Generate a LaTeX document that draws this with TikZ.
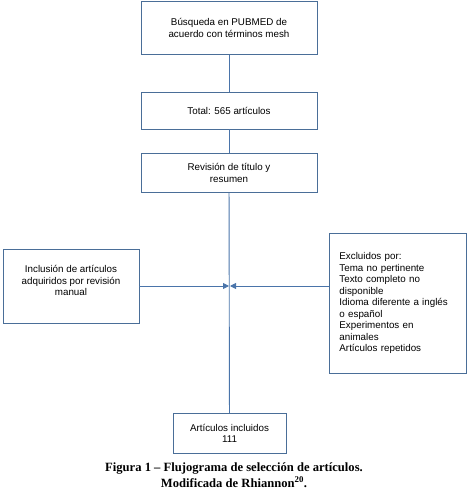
\documentclass[tikz,border=0pt]{standalone}
\usepackage{fontspec}
\setmainfont{Liberation Sans}
\newfontfamily\capfont{Liberation Serif}
\usetikzlibrary{arrows.meta}
\definecolor{boxc}{HTML}{4A6E98}
\definecolor{linec}{HTML}{4A74AA}
\begin{document}
\begin{tikzpicture}[x=1pt,y=-1pt,
  flowbox/.style={draw=boxc,line width=0.9pt,align=center,font=\fontsize{9.8}{11.5}\selectfont,inner sep=0pt},
  conn/.style={draw=linec,line width=0.9pt},
  tip/.style={-{Triangle[length=6pt,width=6pt]}}]
\useasboundingbox (0,0) rectangle (470,497);
\node[flowbox,minimum width=176pt,minimum height=53pt] (b1) at (229,28) {Búsqueda en PUBMED de\\acuerdo con términos mesh};
\node[flowbox,minimum width=176pt,minimum height=37pt] (b2) at (229,110.5) {Total: 565 artículos};
\node[flowbox,minimum width=176pt,minimum height=39pt,anchor=north] (b3) at (229,153) {Revisión de título y\\resumen};
\node[flowbox,minimum width=113pt,minimum height=40pt,anchor=north] (b4) at (229.5,413) {Artículos incluidos\\111};
\node[flowbox,minimum width=136pt,minimum height=74pt] (bl) at (71,286) {Inclusión de artículos\\adquiridos por revisión\\manual\\[-1pt]\mbox{}};
\node[flowbox,minimum width=137pt,minimum height=140pt,anchor=north west,align=left,text width=117pt] (br) at (329,233) {Excluidos por:\\Tema no pertinente\\Texto completo no\\disponible\\Idioma diferente a inglés\\o español\\Experimentos en\\animales\\Artículos repetidos};
\coordinate (j) at (229.5,286);
\draw[conn] (b1) -- (b2);
\draw[conn] (b2) -- (b3);
\draw[conn] (b3) -- (b4);
\draw[conn,tip] (bl.east) -- ([xshift=-0.5pt]j);
\draw[conn,tip] (br.west |- j) -- ([xshift=0.5pt]j);
\node[font=\capfont\bfseries\fontsize{12.6}{16}\selectfont,align=center] (cap) at (234,475) {Figura 1 – Flujograma de selección de artículos.\\Modificada de Rhiannon\textsuperscript{20}.};
\end{tikzpicture}
\end{document}
